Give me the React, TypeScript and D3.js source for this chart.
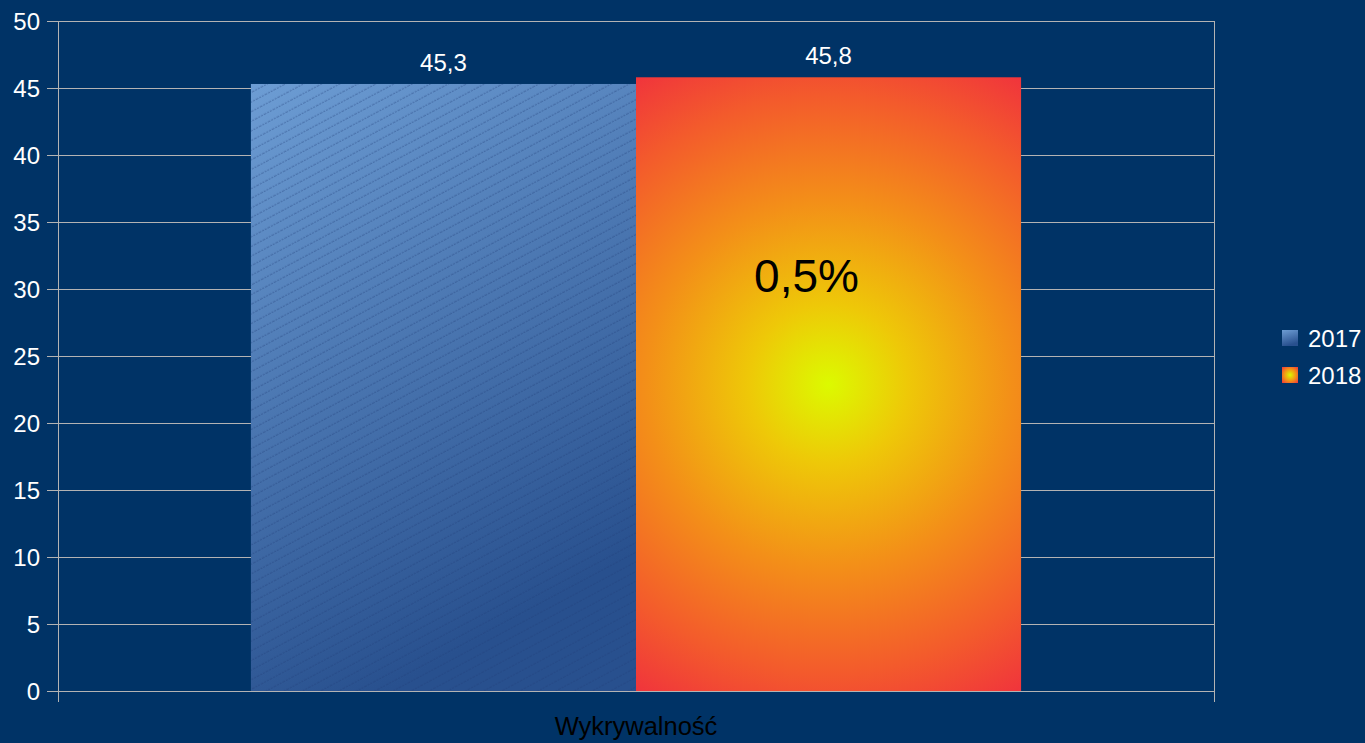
import React from "react";
import * as d3 from "d3";

const categories = ["Wykrywalność"];
const seriesNames = ["2017", "2018"];
const values2017 = [45.3];
const values2018 = [45.8];
const valueLabels2017 = ["45,3"];
const valueLabels2018 = ["45,8"];
const yTicks = [0, 5, 10, 15, 20, 25, 30, 35, 40, 45, 50];
const changeLabel = "0,5%";

const W = 1365;
const H = 743;
const BG = "#003366";
const GRID = "#b3b3b3";
const FONT = "'Liberation Sans', Arial, sans-serif";

export default function App() {
  const left = 58;
  const right = 1214;
  const top = 21;
  const bottom = 691;

  const y = d3.scaleLinear().domain([0, 50]).range([bottom, top]);
  const x0 = d3.scaleBand<string>().domain(categories).range([left, right]).paddingOuter(0.2505).paddingInner(0);
  const x1 = d3.scaleBand<string>().domain(seriesNames).range([0, x0.bandwidth()]).padding(0);

  const series = [
    { name: "2017", values: values2017, labels: valueLabels2017, fill: "url(#g2017)" },
    { name: "2018", values: values2018, labels: valueLabels2018, fill: "url(#g2018)" },
  ];

  const cat = categories[0];
  const bx2 = (x0(cat) ?? 0) + (x1("2018") ?? 0);
  const bw = x1.bandwidth();
  const top2 = y(values2018[0]);
  const cx2 = bx2 + bw / 2;
  const cy2 = (top2 + bottom) / 2;
  const r2 = Math.sqrt((bw / 2) ** 2 + ((bottom - top2) / 2) ** 2);

  return (
    <svg
      width={W}
      height={H}
      style={{ position: "absolute", left: 0, top: 0, display: "block" }}
      fontFamily={FONT}
    >
      <defs>
        <linearGradient id="g2017base" x1="0" y1="0" x2="0.35" y2="1">
          <stop offset="0" stopColor="#6d9dd4" />
          <stop offset="1" stopColor="#28508e" />
        </linearGradient>
        <pattern id="hatch" width="10" height="8.5" patternUnits="userSpaceOnUse" patternTransform="rotate(-28)">
          <line x1="0" y1="4" x2="10" y2="4" stroke="#1e3f78" strokeOpacity="0.45" strokeWidth="1" strokeDasharray="2 1" />
        </pattern>
        <radialGradient id="g2018" gradientUnits="userSpaceOnUse" cx={cx2} cy={cy2} r={r2} fx={cx2} fy={cy2}>
          <stop offset="0" stopColor="#dcfa00" />
          <stop offset="0.22" stopColor="#eec808" />
          <stop offset="0.5" stopColor="#f39018" />
          <stop offset="0.8" stopColor="#f35a2c" />
          <stop offset="1" stopColor="#f0343c" />
        </radialGradient>
      </defs>
      <rect x={0} y={0} width={W} height={H} fill={BG} />

      {/* grid lines */}
      {yTicks.map((t) => (
        <g key={t}>
          <line x1={47} x2={right} y1={y(t) + 0.5} y2={y(t) + 0.5} stroke={GRID} strokeWidth={1} />
          <text x={40} y={y(t) + 8.5} fill="#ffffff" fontSize={24} textAnchor="end">
            {t}
          </text>
        </g>
      ))}

      {/* bars */}
      {series.map((s) =>
        categories.map((c, i) => {
          const bx = (x0(c) ?? 0) + (x1(s.name) ?? 0);
          const by = y(s.values[i]);
          const h = bottom - by + 1;
          return (
            <g key={s.name + c}>
              {s.name === "2017" ? (
                <>
                  <rect x={bx} y={by} width={bw} height={h} fill="url(#g2017base)" />
                  <rect x={bx} y={by} width={bw} height={h} fill="url(#hatch)" />
                </>
              ) : (
                <rect x={bx} y={by} width={bw} height={h} fill={s.fill} />
              )}
              <text x={bx + bw / 2} y={by - 13} fill="#ffffff" fontSize={24} textAnchor="middle">
                {s.labels[i]}
              </text>
            </g>
          );
        })
      )}

      {/* change label */}
      <text x={cx2 - 22} y={292} fill="#000000" fontSize={46} textAnchor="middle">
        {changeLabel}
      </text>

      {/* axes */}
      <line x1={left + 0.5} x2={left + 0.5} y1={top} y2={702} stroke={GRID} strokeWidth={1} />
      <line x1={right + 0.5} x2={right + 0.5} y1={top} y2={702} stroke={GRID} strokeWidth={1} />
      <line x1={47} x2={right} y1={bottom + 0.5} y2={bottom + 0.5} stroke={GRID} strokeWidth={1} />

      {/* category label */}
      {categories.map((c) => (
        <text key={c} x={(x0(c) ?? 0) + x0.bandwidth() / 2} y={735} fill="#000000" fontSize={25.5} textAnchor="middle">
          {c}
        </text>
      ))}

      {/* legend */}
      {seriesNames.map((n, i) => (
        <g key={n}>
          <rect x={1282} y={330 + i * 37} width={16} height={16} fill={i === 0 ? "url(#legend2017)" : "url(#legend2018)"} />
          <text x={1308} y={347 + i * 37} fill="#ffffff" fontSize={24}>
            {n}
          </text>
        </g>
      ))}
      <defs>
        <linearGradient id="legend2017" x1="0" y1="0" x2="0.3" y2="1">
          <stop offset="0" stopColor="#6d9dd4" />
          <stop offset="1" stopColor="#28508e" />
        </linearGradient>
        <radialGradient id="legend2018" cx="0.5" cy="0.5" r="0.7">
          <stop offset="0" stopColor="#dcfa00" />
          <stop offset="0.5" stopColor="#f39a14" />
          <stop offset="1" stopColor="#f0343c" />
        </radialGradient>
      </defs>
    </svg>
  );
}
